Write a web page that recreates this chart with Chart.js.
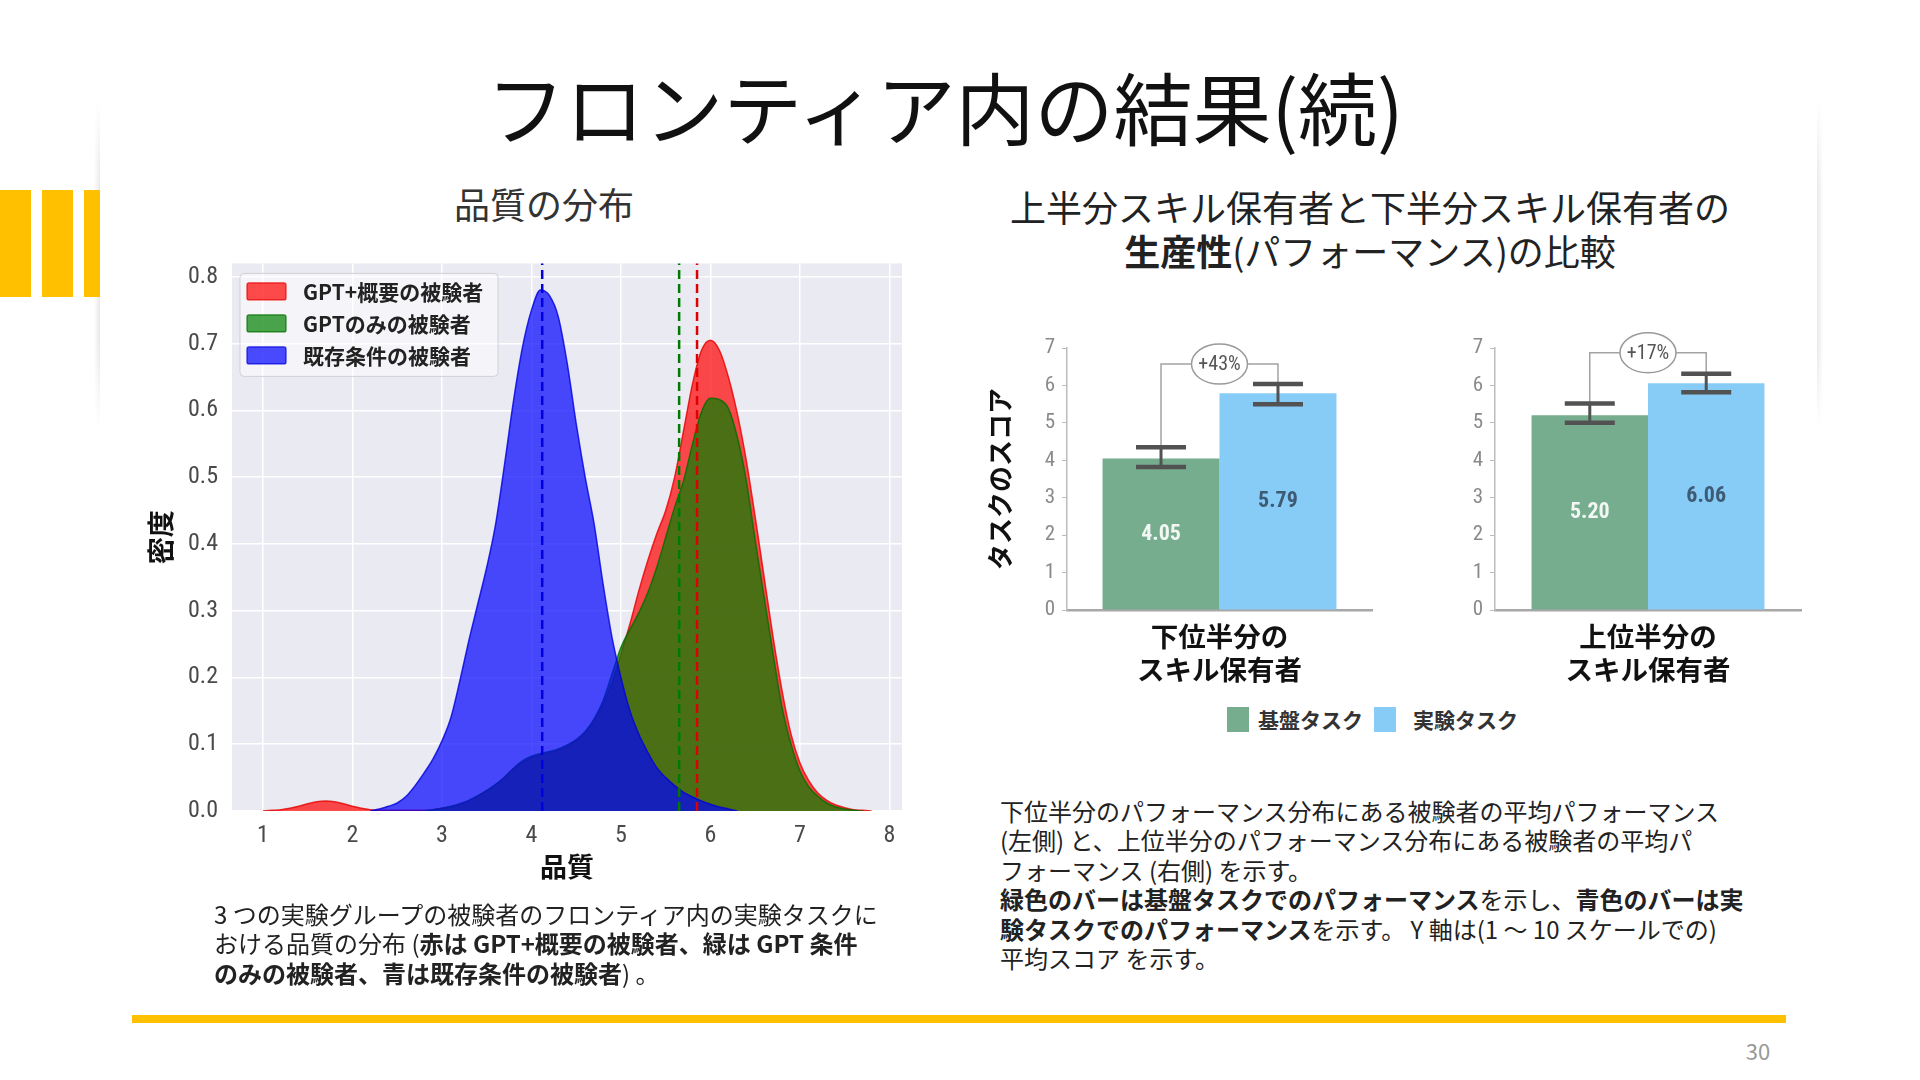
<!DOCTYPE html>
<html lang="ja">
<head>
<meta charset="utf-8">
<script src="https://cdn.jsdelivr.net/npm/chart.js@4.4.1/dist/chart.umd.min.js"></script>
<style>
html,body{margin:0;padding:0;background:#fff;}
body{width:1920px;height:1080px;position:relative;overflow:hidden;font-family:'Noto Sans CJK JP','Noto Sans',sans-serif;color:#222;}
.abs{position:absolute;}
.title{left:445px;width:1000px;top:58px;text-align:center;font-size:79px;line-height:96px;color:#111;white-space:nowrap;}
.sub{font-size:36px;line-height:44px;text-align:center;white-space:nowrap;color:#333;}
.ybar{background:#FFC000;top:190px;height:107px;}
.shadow{top:100px;height:330px;width:6px;-webkit-mask-image:linear-gradient(to bottom,transparent,#000 25%,#000 75%,transparent);}
.body{font-size:24px;line-height:29.4px;color:#222;white-space:nowrap;}
b{font-weight:700;}
canvas{position:absolute;}
.lg{position:absolute;font-size:21px;font-weight:700;line-height:26px;color:#333;white-space:nowrap;}
</style>
</head>
<body>
<div class="abs shadow" style="left:94px;background:linear-gradient(to right,rgba(0,0,0,0),rgba(0,0,0,0.09));"></div>
<div class="abs shadow" style="left:1817px;background:linear-gradient(to left,rgba(0,0,0,0),rgba(0,0,0,0.09));"></div>
<div class="abs ybar" style="left:0;width:31px;"></div>
<div class="abs ybar" style="left:42px;width:31px;"></div>
<div class="abs ybar" style="left:84px;width:16px;"></div>

<div class="abs title">フロンティア内の結果(続)</div>
<div class="abs sub" style="left:344px;width:400px;top:181px;">品質の分布</div>
<div class="abs sub" style="left:970px;width:800px;top:184px;color:#222;">上半分スキル保有者と下半分スキル保有者の<br><b>生産性</b>(パフォーマンス)の比較</div>

<canvas id="kde" width="780" height="665" style="left:140px;top:235px;width:780px;height:665px;"></canvas>
<canvas id="panel1" width="400" height="370" style="left:980px;top:320px;width:400px;height:370px;"></canvas>
<canvas id="panel2" width="359" height="370" style="left:1450px;top:320px;width:359px;height:370px;"></canvas>

<div class="abs" style="left:1227px;top:707px;width:22px;height:25px;background:#76AD8E;"></div>
<div class="lg" style="left:1258px;top:706px;">基盤タスク</div>
<div class="abs" style="left:1374px;top:707px;width:22px;height:25px;background:#87CBF7;"></div>
<div class="lg" style="left:1413px;top:706px;">実験タスク</div>

<div class="abs body" style="left:214px;top:899px;">3 つの実験グループの被験者のフロンティア内の実験タスクに<br>おける品質の分布 (<b>赤は GPT+概要の被験者、緑は GPT 条件</b><br><b>のみの被験者、青は既存条件の被験者</b>) 。</div>

<div class="abs body" style="left:1000px;top:796px;">下位半分のパフォーマンス分布にある被験者の平均パフォーマンス<br>(左側) と、上位半分のパフォーマンス分布にある被験者の平均パ<br>フォーマンス (右側) を示す。<br><b>緑色のバーは基盤タスクでのパフォーマンス</b>を示し、<b>青色のバーは実</b><br><b>験タスクでのパフォーマンス</b>を示す。 Y 軸は(1 ～ 10 スケールでの)<br>平均スコア を示す。</div>

<div class="abs" style="left:132px;top:1015px;width:1654px;height:8px;background:#FFC000;"></div>
<div class="abs" style="left:1718px;width:80px;top:1036px;text-align:center;font-size:22px;line-height:28px;color:#999;">30</div>

<script>
// ---------- Left chart data: density (KDE) of quality ----------
const kdeX = [1.0,1.1,1.2,1.3,1.4,1.5,1.6,1.7,1.8,1.9,2.0,2.1,2.2,2.3,2.4,2.5,2.6,2.7,2.8,2.9,
  3.0,3.1,3.2,3.3,3.4,3.5,3.6,3.7,3.8,3.9,4.0,4.1,4.2,4.3,4.4,4.5,4.6,4.7,4.8,4.9,
  5.0,5.1,5.2,5.3,5.4,5.5,5.6,5.7,5.8,5.9,6.0,6.1,6.2,6.3,6.4,6.5,6.6,6.7,6.8,6.9,
  7.0,7.1,7.2,7.3,7.4,7.5,7.6,7.7,7.8];
const redDensity = [0.000,0.001,0.002,0.004,0.007,0.011,0.014,0.015,0.014,0.011,0.007,0.004,0.002,0.001,0.001,0.001,0.001,0.001,0.001,0.002,
  0.004,0.006,0.010,0.015,0.022,0.030,0.039,0.050,0.063,0.073,0.080,0.084,0.087,0.091,0.097,0.105,0.117,0.135,0.160,0.192,
  0.235,0.280,0.330,0.375,0.415,0.450,0.500,0.570,0.640,0.690,0.705,0.690,0.650,0.595,0.525,0.440,0.350,0.260,0.180,0.115,
  0.072,0.045,0.027,0.016,0.009,0.005,0.002,0.001,0.000];
const greenDensity = [null,null,null,null,null,null,null,null,null,null,null,null,null,null,null,null,null,null,0.000,0.002,
  0.004,0.007,0.011,0.016,0.023,0.031,0.040,0.051,0.064,0.075,0.082,0.086,0.089,0.093,0.099,0.107,0.119,0.138,0.165,0.205,
  0.245,0.272,0.297,0.327,0.365,0.410,0.455,0.495,0.550,0.598,0.618,0.616,0.603,0.560,0.495,0.405,0.320,0.235,0.155,0.100,
  0.060,0.036,0.022,0.012,0.006,0.003,0.001,0.000,null];
const blueDensity = [null,null,null,null,null,null,null,null,null,null,null,null,0.000,0.003,0.007,0.012,0.022,0.038,0.057,0.078,
  0.105,0.140,0.195,0.255,0.310,0.365,0.430,0.520,0.615,0.695,0.750,0.780,0.772,0.740,0.670,0.580,0.500,0.430,0.340,0.260,
  0.200,0.150,0.115,0.088,0.065,0.050,0.038,0.028,0.021,0.015,0.010,0.006,0.003,0.000,null,null,null,null,null,null,
  null,null,null,null,null,null,null,null,null];
const kdeNames = ['GPT+概要の被験者','GPTのみの被験者','既存条件の被験者'];
const kdeMeans = [5.85, 5.65, 4.12];
const kdeXTicks = [1,2,3,4,5,6,7,8];
const kdeYTicks = [0,0.1,0.2,0.3,0.4,0.5,0.6,0.7,0.8];

// ---------- Right charts data: task scores ----------
const groupLabels = [['下位半分の','スキル保有者'],['上位半分の','スキル保有者']];
const barSeriesNames = ['基盤タスク','実験タスク'];
const baseScores = [4.05, 5.20];
const expScores = [5.79, 6.06];
const baseErrLow = [3.82, 5.00];
const baseErrHigh = [4.35, 5.52];
const expErrLow = [5.50, 5.82];
const expErrHigh = [6.04, 6.31];
const gainLabels = ['+43%','+17%'];
const bracketTop = [6.57, 6.87];
const barYTicks = [0,1,2,3,4,5,6,7];

const CJK = "'Noto Sans CJK JP','Noto Sans',sans-serif";
const NARROW = "'Liberation Sans Narrow','Roboto Condensed','Arial Narrow','DejaVu Sans Condensed',Roboto,sans-serif";
Chart.defaults.font.family = CJK;

const kdeColors = [
  {fill:'rgba(255,0,0,0.7)', line:'rgba(230,0,0,0.8)', dash:'#e00000'},
  {fill:'rgba(0,128,0,0.7)', line:'rgba(0,110,0,0.8)', dash:'#007a00'},
  {fill:'rgba(0,0,255,0.7)', line:'rgba(0,0,220,0.8)', dash:'#0000e0'}
];
const kdeSeries = [redDensity, greenDensity, blueDensity];
const toPts = arr => kdeX.map((x,i)=>({x:x, y:arr[i]})).filter(p=>p.y!==null);

const kdeDatasets = kdeSeries.map((arr,i)=>({
  label: kdeNames[i], data: toPts(arr), fill:'origin',
  backgroundColor: kdeColors[i].fill, borderColor: kdeColors[i].line, borderWidth:1.5,
  pointRadius:0, cubicInterpolationMode:'monotone', order: 3 - i
}));
kdeMeans.forEach((m,i)=>{
  kdeDatasets.push({label:'mean'+i, data:[{x:m,y:0},{x:m,y:0.9}], fill:false,
    borderColor:kdeColors[i].dash, borderWidth:2.5, borderDash:[9,5], pointRadius:0, order:0});
});

const plotBg = {id:'plotBg', beforeDraw(chart){
  const {ctx, chartArea:a} = chart; ctx.save(); ctx.fillStyle='#EAEAF2';
  ctx.fillRect(a.left,a.top,a.right-a.left,a.bottom-a.top); ctx.restore();
}};
const kdeLegend = {id:'kdeLegend', afterDatasetsDraw(chart){
  const {ctx, chartArea:a} = chart; ctx.save();
  const bx=a.left+8, by=a.top+10, bw=258, bh=103;
  ctx.beginPath(); ctx.roundRect(bx,by,bw,bh,4);
  ctx.fillStyle='rgba(255,255,255,0.5)'; ctx.fill();
  ctx.strokeStyle='rgba(205,205,210,0.9)'; ctx.lineWidth=1; ctx.stroke();
  kdeNames.forEach((n,i)=>{
    const cy = a.top + 28 + i*32;
    ctx.beginPath(); ctx.roundRect(a.left+15, cy-8.5, 39, 17, 2);
    ctx.fillStyle=kdeColors[i].fill; ctx.fill();
    ctx.strokeStyle=kdeColors[i].line; ctx.lineWidth=1.2; ctx.stroke();
    ctx.fillStyle='#222'; ctx.font='bold 21px '+CJK; ctx.textAlign='left'; ctx.textBaseline='middle';
    ctx.fillText(n, a.left+71, cy+1);
  });
  ctx.restore();
}};

new Chart(document.getElementById('kde'), {
  type:'line',
  data:{datasets:kdeDatasets},
  options:{
    responsive:false, animation:false, devicePixelRatio:1,
    layout:{padding:{top:18,right:18,left:0,bottom:0}},
    plugins:{legend:{display:false}, tooltip:{enabled:false}},
    scales:{
      x:{type:'linear', min:0.654, max:8.14,
        afterBuildTicks:s=>{s.ticks=kdeXTicks.map(v=>({value:v}));},
        afterFit:s=>{s.height=89;},
        grid:{color:'#ffffff', lineWidth:1.5, drawTicks:false}, border:{display:false},
        ticks:{padding:11, color:'#4a4a4a', font:{family:NARROW, size:24}, callback:v=>String(v)},
        title:{display:true, text:'品質', color:'#111', font:{family:CJK, size:27, weight:'bold'}, padding:{top:0,bottom:17}}
      },
      y:{type:'linear', min:0, max:0.82,
        afterBuildTicks:s=>{s.ticks=kdeYTicks.map(v=>({value:v}));},
        afterFit:s=>{s.width=92;},
        grid:{color:'#ffffff', lineWidth:1.5, drawTicks:false}, border:{display:false},
        ticks:{padding:14, color:'#4a4a4a', font:{family:NARROW, size:24}, callback:v=>Number(v).toFixed(1)},
        title:{display:true, text:'密度', color:'#111', font:{family:CJK, size:27, weight:'bold'}, padding:{top:5,bottom:0}}
      }
    }
  },
  plugins:[plotBg, kdeLegend]
});

const panelDecor = {id:'panelDecor', afterDatasetsDraw(chart, args, opts){
  const i = opts.idx; const {ctx} = chart; const ys = chart.scales.y;
  const mb = chart.getDatasetMeta(0).data[0], me = chart.getDatasetMeta(1).data[0];
  ctx.save();
  ctx.textAlign='center'; ctx.textBaseline='middle';
  ctx.font='bold 22px '+NARROW;
  ctx.fillStyle='#f2f7f3'; ctx.fillText(baseScores[i].toFixed(2), mb.x, ys.getPixelForValue(baseScores[i]/2));
  ctx.fillStyle='#3e5b74'; ctx.fillText(expScores[i].toFixed(2), me.x, ys.getPixelForValue(expScores[i]/2));
  const yt = ys.getPixelForValue(bracketTop[i]);
  ctx.strokeStyle='#a3a3a3'; ctx.lineWidth=1.5;
  ctx.beginPath(); ctx.moveTo(mb.x, ys.getPixelForValue(baseErrHigh[i])); ctx.lineTo(mb.x, yt);
  ctx.lineTo(me.x, yt); ctx.lineTo(me.x, ys.getPixelForValue(expErrHigh[i])); ctx.stroke();
  const err = (x, lo, hi) => {
    const yl = ys.getPixelForValue(lo), yh = ys.getPixelForValue(hi);
    ctx.strokeStyle='#525252'; ctx.lineWidth=3;
    ctx.beginPath(); ctx.moveTo(x, yl); ctx.lineTo(x, yh); ctx.stroke();
    ctx.lineWidth=4.5;
    ctx.beginPath(); ctx.moveTo(x-25, yl); ctx.lineTo(x+25, yl); ctx.moveTo(x-25, yh); ctx.lineTo(x+25, yh); ctx.stroke();
  };
  err(mb.x, baseErrLow[i], baseErrHigh[i]);
  err(me.x, expErrLow[i], expErrHigh[i]);
  const cx = (mb.x+me.x)/2;
  ctx.beginPath(); ctx.ellipse(cx, yt, 28, 20, 0, 0, Math.PI*2);
  ctx.fillStyle='#ffffff'; ctx.fill(); ctx.strokeStyle='#9a9a9a'; ctx.lineWidth=1.5; ctx.stroke();
  ctx.fillStyle='#555'; ctx.font='20px '+NARROW; ctx.fillText(gainLabels[i], cx, yt+1);
  ctx.restore();
}};

function makePanel(id, idx, yWidth, catPct, showTitle){
  new Chart(document.getElementById(id), {
    type:'bar',
    data:{labels:[groupLabels[idx]], datasets:[
      {label:barSeriesNames[0], data:[baseScores[idx]], backgroundColor:'#76AD8E', barPercentage:1, categoryPercentage:catPct},
      {label:barSeriesNames[1], data:[expScores[idx]], backgroundColor:'#87CBF7', barPercentage:1, categoryPercentage:catPct}
    ]},
    options:{
      responsive:false, animation:false, devicePixelRatio:1,
      layout:{padding:{top:28,right:8,left:0,bottom:0}},
      plugins:{legend:{display:false}, tooltip:{enabled:false}, panelDecor:{idx:idx}},
      scales:{
        x:{grid:{display:false, drawTicks:false}, border:{color:'#a8a8a8', width:2.5},
          afterFit:s=>{s.height=80;},
          ticks:{padding:10, color:'#111', font:{family:CJK, size:27.5, weight:'bold', lineHeight:1.2}}
        },
        y:{min:0, max:7,
          afterBuildTicks:s=>{s.ticks=barYTicks.map(v=>({value:v}));},
          afterFit:s=>{s.width=yWidth;},
          grid:{drawOnChartArea:false, drawTicks:true, tickLength:5, color:'#bbbbbb'},
          border:{color:'#bbbbbb', width:1.5},
          ticks:{padding:7, color:'#8a8a8a', font:{family:NARROW, size:21}},
          title:{display:showTitle, text:'タスクのスコア', color:'#111', font:{family:CJK, size:26, weight:'bold'}, padding:{top:5,bottom:0}}
        }
      }
    },
    plugins:[panelDecor]
  });
}
makePanel('panel1', 0, 87, 0.767, true);
makePanel('panel2', 1, 45, 0.761, false);
</script>
</body>
</html>
